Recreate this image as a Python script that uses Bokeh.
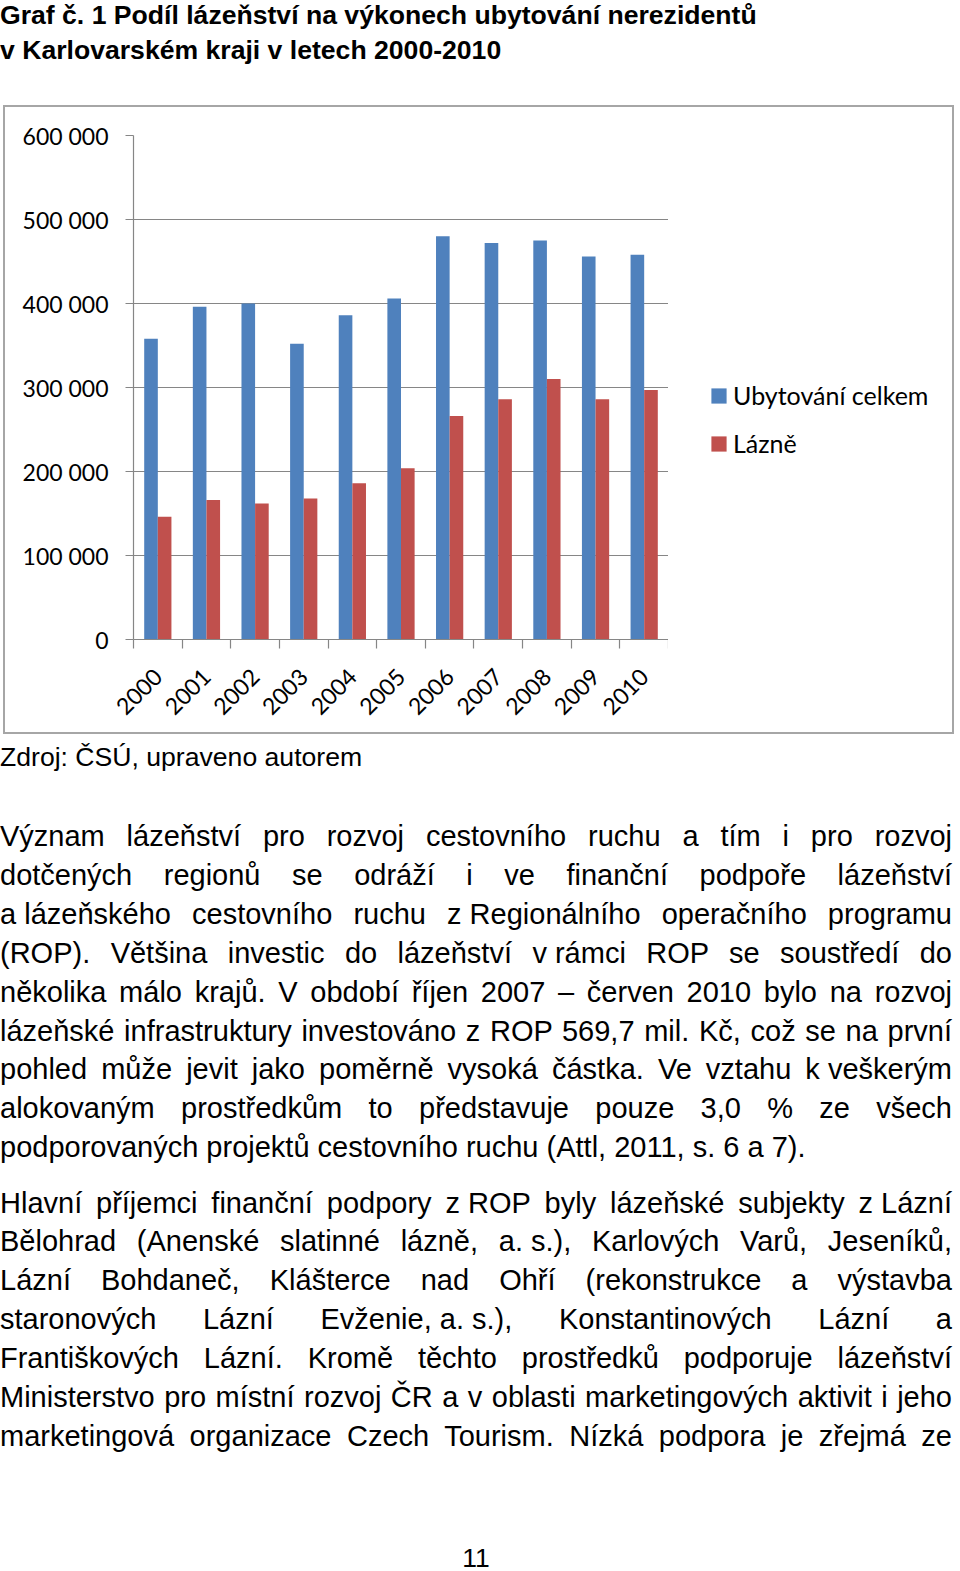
import math
from bokeh.plotting import figure
from bokeh.models import Div, FixedTicker, Legend, LegendItem, ColumnDataSource
from bokeh.layouts import column, row
from bokeh.transform import dodge
from bokeh.embed import file_html
from bokeh.resources import INLINE

# ---------------- data ----------------
years = [2000, 2001, 2002, 2003, 2004, 2005, 2006, 2007, 2008, 2009, 2010]
ubytovani_celkem = [358000, 396000, 400000, 352000, 386000, 406000, 480000, 472000, 475000, 456000, 458000]
lazne = [146000, 166000, 162000, 168000, 186000, 204000, 266000, 286000, 310000, 286000, 297000]
series_names = ["Ubytování celkem", "Lázně"]
y_ticks = [0, 100000, 200000, 300000, 400000, 500000, 600000]
y_tick_labels = ["0", "100 000", "200 000", "300 000", "400 000", "500 000", "600 000"]
x_tick_labels = ["2000", "2001", "2002", "2003", "2004", "2005", "2006", "2007", "2008", "2009", "2010"]

title_lines = [
    "Graf č. 1 Podíl lázeňství na výkonech ubytování nerezidentů",
    "v Karlovarském kraji v letech 2000-2010",
]
source_line = "Zdroj: ČSÚ, upraveno autorem"
paragraph1 = [
    "Význam lázeňství pro rozvoj cestovního ruchu a tím i pro rozvoj",
    "dotčených regionů se odráží i ve finanční podpoře lázeňství",
    "a~lázeňského cestovního ruchu z~Regionálního operačního programu",
    "(ROP). Většina investic do lázeňství v~rámci ROP se soustředí do",
    "několika málo krajů. V období říjen 2007 – červen 2010 bylo na rozvoj",
    "lázeňské infrastruktury investováno z ROP 569,7 mil. Kč, což se na první",
    "pohled může jevit jako poměrně vysoká částka. Ve vztahu k~veškerým",
    "alokovaným prostředkům to představuje pouze 3,0 % ze všech",
    "podporovaných projektů cestovního ruchu (Attl, 2011, s. 6 a 7).",
]
paragraph2 = [
    "Hlavní příjemci finanční podpory z~ROP byly lázeňské subjekty z~Lázní",
    "Bělohrad (Anenské slatinné lázně, a.~s.), Karlových Varů, Jeseníků,",
    "Lázní Bohdaneč, Klášterce nad Ohří (rekonstrukce a výstavba",
    "staronových Lázní Evženie,~a.~s.), Konstantinových Lázní a",
    "Františkových Lázní. Kromě těchto prostředků podporuje lázeňství",
    "Ministerstvo pro místní rozvoj ČR a v oblasti marketingových aktivit i jeho",
    "marketingová organizace Czech Tourism. Nízká podpora je zřejmá ze",
]
page_number = "11"

colors = ["#4F81BD", "#C0504D"]
grid_color = "#868686"
chart_font = "Lato"
text_font = "'Liberation Sans', Arial, sans-serif"

# ---------------- title ----------------
title_html = (
    f'<div style="position:relative;width:952px;height:105px;font-family:{text_font};'
    f'font-weight:bold;font-size:26.6px;line-height:35px;color:#000;">'
)
for i, t in enumerate(title_lines):
    title_html += (f'<div style="position:absolute;left:0;top:{-1.7 + 35 * i:.1f}px;'
                   f'white-space:nowrap;">{t}</div>')
title_html += '</div>'
title_div = Div(text=title_html, width=952, height=105, margin=(0, 0, 0, 0))

# ---------------- chart ----------------
src = ColumnDataSource(dict(year=years, u=ubytovani_celkem, l=lazne))

p = figure(width=663, height=625, output_backend="svg", toolbar_location=None,
           x_range=(years[0] - 0.5, years[-1] + 0.5), y_range=(y_ticks[0], y_ticks[-1]),
           min_border_left=128, min_border_right=0, min_border_top=28, min_border_bottom=93,
           margin=(0, 0, 0, 0))
p.outline_line_color = None
p.background_fill_color = "white"
p.border_fill_color = "white"

r1 = p.vbar(x=dodge("year", -0.14), top="u", width=0.28, source=src,
            fill_color=colors[0], line_color=None)
r2 = p.vbar(x=dodge("year", 0.14), top="l", width=0.28, source=src,
            fill_color=colors[1], line_color=None)

p.xgrid.visible = False
p.ygrid.ticker = FixedTicker(ticks=y_ticks)
p.ygrid.grid_line_color = grid_color
p.ygrid.grid_line_width = 1.2

ya = p.yaxis[0]
ya.ticker = FixedTicker(ticks=y_ticks)
ya.major_label_overrides = {v: s for v, s in zip(y_ticks, y_tick_labels)}
ya.axis_line_color = grid_color
ya.axis_line_width = 1.2
ya.major_tick_line_color = grid_color
ya.major_tick_out = 8
ya.major_tick_in = 0
ya.minor_tick_line_color = None
ya.major_label_standoff = 17
ya.major_label_text_font = chart_font
ya.major_label_text_font_size = "23px"
ya.major_label_text_color = "#000000"

xa = p.xaxis[0]
xa.ticker = FixedTicker(ticks=years,
                        minor_ticks=[y - 0.5 for y in years] + [years[-1] + 0.5])
xa.major_label_overrides = {v: s for v, s in zip(years, x_tick_labels)}
xa.axis_line_color = grid_color
xa.axis_line_width = 1.2
xa.major_tick_line_color = None
xa.major_tick_out = 9
xa.major_tick_in = 0
xa.minor_tick_line_color = grid_color
xa.minor_tick_line_width = 1.2
xa.minor_tick_out = 9
xa.minor_tick_in = 0
xa.major_label_orientation = math.pi / 4
xa.major_label_standoff = 24
xa.major_label_text_font = chart_font
xa.major_label_text_font_size = "23px"
xa.major_label_text_color = "#000000"

# legend panel (right part of the chart box); its bars use the same series
# but lie outside its visible range, so only the legend swatches show
pl = figure(width=284, height=625, output_backend="svg", toolbar_location=None,
            x_range=(0, 1), y_range=(0, 1), min_border=0, margin=(0, 0, 0, 0))
pl.axis.visible = False
pl.grid.visible = False
pl.outline_line_color = None
pl.background_fill_color = "white"
pl.border_fill_color = "white"
lr1 = pl.vbar(x=dodge("year", -0.14), top="u", width=0.28, source=src,
              fill_color=colors[0], line_color=None)
lr2 = pl.vbar(x=dodge("year", 0.14), top="l", width=0.28, source=src,
              fill_color=colors[1], line_color=None)

legend = Legend(items=[LegendItem(label=series_names[0], renderers=[lr1]),
                       LegendItem(label=series_names[1], renderers=[lr2])],
                location=(41, 181))
legend.padding = 0
legend.margin = 0
legend.spacing = 18
legend.glyph_width = 19
legend.glyph_height = 19
legend.label_standoff = 5
legend.border_line_color = None
legend.background_fill_alpha = 0
legend.label_text_font = chart_font
legend.label_text_font_size = "25px"
legend.label_text_color = "#000000"
pl.add_layout(legend, "center")

chart_box = row(p, pl, width=951, height=629, margin=(0, 0, 0, 3), spacing=0,
                styles={"border": "2px solid #a6a6a6", "overflow": "hidden",
                        "background-color": "white", "box-sizing": "border-box"})

# ---------------- body text ----------------
BODY_TOP = 734
FS = 29
LH = 39
off = (LH - 1.117 * FS) / 2 + 0.905 * FS


def fmt(line):
    parts = line.split(" ")
    out = []
    for w in parts:
        if "~" in w:
            out.append('<span style="display:inline-block;">' + w.replace("~", " ") + '</span>')
        else:
            out.append(w)
    return " ".join(out)


body = (f'<div style="position:relative;width:952px;height:834px;font-family:{text_font};'
        f'color:#000;">')
src_off = (LH - 1.117 * 26.6) / 2 + 0.905 * 26.6
body += (f'<div style="position:absolute;left:0;top:{767 - BODY_TOP - src_off:.1f}px;'
         f'font-size:26.6px;line-height:{LH}px;white-space:nowrap;">{source_line}</div>')


def para(lines, first_baseline, justify_last):
    h = ""
    for i, ln in enumerate(lines):
        top = first_baseline + 38.9 * i - BODY_TOP - off
        last = (i == len(lines) - 1) and not justify_last
        align = "text-align:left;" if last else "text-align:justify;text-align-last:justify;"
        h += (f'<div style="position:absolute;left:0;top:{top:.1f}px;width:952px;'
              f'font-size:{FS}px;line-height:{LH}px;{align}">{fmt(ln)}</div>')
    return h


body += para(paragraph1, 846.5, False)
body += para(paragraph2, 1213, True)
pn_off = (20 - 1.117 * 26.5) / 2 + 0.905 * 26.5
body += (f'<div style="position:absolute;left:0;top:{1567 - BODY_TOP - pn_off:.1f}px;width:952px;'
         f'text-align:center;font-size:26.5px;line-height:20px;">{page_number}</div>')
body += '</div>'
body_div = Div(text=body, width=952, height=830, margin=(0, 0, 0, 0))

layout = column(title_div, chart_box, body_div, spacing=0, margin=(0, 0, 0, 0))

open("out.html", "w").write(file_html(layout, INLINE))
